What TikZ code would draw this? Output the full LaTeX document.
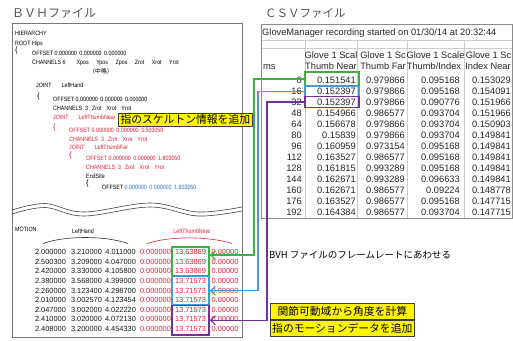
\documentclass[tikz,border=0pt]{standalone}
\usepackage{fontspec}
\setmainfont{Liberation Sans}
\newfontfamily\jp{Noto Sans CJK JP}
\newfontfamily\bvhfam{Liberation Sans}[FakeStretch=0.86]
\usetikzlibrary{arrows.meta,calc}
\definecolor{cG}{RGB}{60,178,60}
\definecolor{cB}{RGB}{72,152,212}
\definecolor{cP}{RGB}{112,48,160}
\definecolor{cR}{RGB}{226,32,56}
\definecolor{cT}{RGB}{45,115,200}
\definecolor{cFrame}{RGB}{120,120,120}
\definecolor{cGrid}{RGB}{205,205,205}
\definecolor{cYel}{RGB}{255,245,0}
\definecolor{cTitle}{RGB}{85,85,85}
\newcommand\bvhf{\bvhfam\fontsize{6.2}{7}\selectfont}
\newcommand\datf{\fontsize{7.4}{8}\selectfont}
\newcommand\csvf{\fontsize{9.3}{10}\selectfont}
\newcommand\gp[1]{\hspace{#1pt}}
\begin{document}
\begin{tikzpicture}[x=1pt,y=-1pt,
 bvh/.style={font=\bvhf, inner sep=0pt, anchor=west, text height=4.4pt, text depth=0pt, text=#1},
 bvh/.default=black,
 brc/.style={font=\fontsize{7.5}{8}\selectfont, inner sep=0pt, anchor=west, text=#1},
 brc/.default=black,
 dat/.style={font=\datf, inner sep=0pt, text height=5.3pt, text depth=0pt, text=#1},
 dat/.default=black!90,
 csv/.style={font=\csvf, inner sep=0pt, text height=6.7pt, text depth=0pt, text=black!85},
 csvr/.style={csv, anchor=east},
 jpt/.style={font=\jp\fontsize{#1}{#1}\selectfont, inner sep=0pt},
 lab/.style={fill=cYel, draw=black!75, line width=0.6pt, inner sep=0pt, font=\jp\fontsize{10.8}{12}\selectfont, text=black},
 cbox/.style={draw=#1, line width=1.3pt, inner sep=0pt},
 conn/.style={draw=#1, line width=1.1pt, -{Straight Barb[length=5pt,width=9pt]}},
]
\fill[white] (0,0) rectangle (513,340);
\useasboundingbox (0,0) rectangle (513,340);

% titles
\node[jpt=12, anchor=west, text=cTitle] (t1) at (12,13) {ＢＶＨファイル};
\node[jpt=11.5, anchor=west, text=cTitle] (t2) at (265,13) {ＣＳＶファイル};

% BVH frame
\draw[cFrame, line width=0.8pt] (12,23) rectangle (242,337);

% hierarchy text
\node[bvh] (b1) at (15,33) {HIERARCHY};
\node[bvh] (b2) at (15,43) {ROOT Hips};
\node[brc] (b3) at (15,51) {\{};
\node[bvh] (b4) at (32,53) {OFFSET 0.000000\gp{2.5}0.000000\gp{2.5}0.000000};
\node[bvh] (b5) at (32,62) {CHANNELS 6\gp{11}Xpos\gp{7.5}Ypos\gp{7.5}Zpos\gp{7.5}Zrot\gp{7.5}Xrot\gp{7.5}Yrot};
\node[jpt=5.8] (b6) at (101,71) {（中略）};
\node[bvh] (b7) at (36,85) {JOINT\gp{10}LeftHand};
\node[brc] (b8) at (37,97) {\{};
\node[bvh] (b9) at (53,99) {OFFSET 0.000000\gp{2.5}0.000000\gp{2.5}0.000000};
\node[bvh] (b10) at (53,108) {CHANNELS\gp{3}3\gp{4}Zrot\gp{5}Xrot\gp{5}Yrot};
\node[bvh=cR] (b11) at (53,117) {JOINT\gp{10}LeftThumbNear};
\node[brc=cR] (b12) at (53,127.5) {\{};
\node[bvh=cR] (b13) at (69,130) {OFFSET 0.000000\gp{2.5}0.000000\gp{2.5}3.503050};
\node[bvh=cR] (b14) at (69,139) {CHANNELS\gp{3}3\gp{4}Zrot\gp{5}Xrot\gp{5}Yrot};
\node[bvh=cR] (b15) at (69,147) {JOINT\gp{10}LeftThumbFar};
\node[brc=cR] (b16) at (69,155.5) {\{};
\node[bvh=cR] (b17) at (86,158) {OFFSET 0.000000\gp{2.5}0.000000\gp{2.5}1.803050};
\node[bvh=cR] (b18) at (86,167) {CHANNELS\gp{3}3\gp{4}Zrot\gp{5}Xrot\gp{5}Yrot};
\node[bvh] (b19) at (86,176) {EndSite};
\node[brc] (b20) at (86,183.5) {\{};
\node[bvh] (b21) at (102,187) {OFFSET {\color{cT}0.000000\gp{2.5}0.000000\gp{2.5}1.803050}};

% break
\draw[black!75, line width=0.6pt] plot[smooth, tension=0.6] coordinates {(12,210) (45,203.5) (84,212) (150,203) (198,212) (242,207)};
\draw[black!75, line width=0.6pt] plot[smooth, tension=0.6] coordinates {(12,214) (45,207.5) (84,216) (150,207) (198,216) (242,211)};

% motion
\node[bvh] (mo) at (15,229) {MOTION};
\node[bvh, anchor=center] (lh) at (83,231) {LeftHand};
\node[bvh=cR, anchor=center] (ltn) at (192,231) {LeftThumbNear};
\draw[black!80, line width=0.6pt] (43,243.5) .. controls (65,235.5) and (105,235.5) .. (128,243.5);
\draw[cR, line width=0.6pt] (147,243.5) .. controls (170,236) and (208,236) .. (232,243.5);

\foreach \a/\b/\c/\e [count=\i from 0] in {
 2.000000/3.210000/4.011000/13.63869,
 2.500300/3.209000/4.047000/13.63869,
 2.420000/3.330000/4.105800/13.63869,
 2.380000/3.568000/4.399000/13.71573,
 2.260000/3.123400/4.298700/13.71573,
 2.010000/3.002570/4.123454/13.71573,
 2.047000/3.002000/4.022220/13.71573,
 2.410000/3.020000/4.072130/13.71573,
 2.408000/3.200000/4.454330/13.71573}{
 \pgfmathsetmacro\yy{252+9.6*\i}
 \node[dat] (m\i-a) at (50.5,\yy) {\a};
 \node[dat] (m\i-b) at (86.5,\yy) {\b};
 \node[dat] (m\i-c) at (120.5,\yy) {\c};
 \node[dat=cR] (m\i-d) at (155.5,\yy) {0.000000};
 \node[dat=cR] (m\i-e) at (190.5,\yy) {\e};
 \node[dat=cR] (m\i-f) at (225,\yy) {0.00000};
}
\node[cbox=cG, minimum width=37pt, minimum height=29pt] (bvhG) at (190.5,261.5) {};
\node[cbox=cB, minimum width=37pt, minimum height=28.5pt] (bvhB) at (190.5,290.75) {};
\node[cbox=cP, minimum width=37pt, minimum height=29.5pt] (bvhP) at (190.5,320.25) {};

% CSV table
\draw[cGrid, line width=0.6pt] (305,40) -- (305,218.5) (357,40) -- (357,218.5) (407,40) -- (407,218.5) (464,40) -- (464,218.5);
\draw[cGrid, line width=0.6pt] (261,40) -- (513,40) (261,48) -- (513,48);
\draw[black!45, line width=0.7pt] (261,24) rectangle (512.6,218.5);
\node[csv, anchor=west] (tt) at (262,32) {GloveManager recording started on 01/30/14 at 20:32:44};
\node[csv] (h1) at (331,55.5) {Glove 1 Scal};
\node[csv] (h2) at (383,55.5) {Glove 1 Sc};
\node[csv] (h3) at (435.5,55.5) {Glove 1 Scale};
\node[csv] (h4) at (488.5,55.5) {Glove 1 Sc};
\node[csv, anchor=west] (h5) at (263,66.5) {ms};
\node[csv] (h6) at (331,66.5) {Thumb Near};
\node[csv] (h7) at (383,66.5) {Thumb Far};
\node[csv] (h8) at (434,66.5) {Thumb/Index};
\node[csv] (h9) at (488,66.5) {Index Near};
\foreach \ms/\b/\c/\d/\e [count=\i from 0] in {
 0/0.151541/0.979866/0.095168/0.153029,
 16/0.152397/0.979866/0.095168/0.154091,
 32/0.152397/0.979866/0.090776/0.151966,
 48/0.154966/0.986577/0.093704/0.151966,
 64/0.156678/0.979866/0.093704/0.150903,
 80/0.15839/0.979866/0.093704/0.149841,
 96/0.160959/0.973154/0.095168/0.149841,
 112/0.163527/0.986577/0.095168/0.149841,
 128/0.161815/0.993289/0.095168/0.149841,
 144/0.162671/0.993289/0.096633/0.149841,
 160/0.162671/0.986577/0.09224/0.148778,
 176/0.163527/0.986577/0.095168/0.147715,
 192/0.164384/0.986577/0.093704/0.147715}{
 \pgfmathsetmacro\yy{80+11*\i}
 \node[csvr] (r\i-a) at (302,\yy) {\ms};
 \node[csvr] (r\i-b) at (356,\yy) {\b};
 \node[csvr] (r\i-c) at (405,\yy) {\c};
 \node[csvr] (r\i-d) at (460,\yy) {\d};
 \node[csvr] (r\i-e) at (511,\yy) {\e};
}
\node[cbox=cG, minimum width=54pt, minimum height=14pt] (csvG) at (332,79) {};
\node[cbox=cB, minimum width=54pt, minimum height=10.5pt] (csvB) at (332,91.25) {};
\node[cbox=cP, minimum width=54pt, minimum height=11pt] (csvP) at (332,102) {};

% connectors
\coordinate (gb) at (254,255);
\coordinate (bb) at (258,0 |- bvhB.east);
\coordinate (pb) at (267,0 |- bvhP.east);
\draw[conn=cG] (csvG.west) -| (gb) -- (bvhG.east |- gb);
\draw[conn=cB] (csvB.west) -| (bb) -- (bvhB.east);
\draw[conn=cP] (csvP.west) -| (pb) -- (bvhP.east);

% labels
\node[lab, minimum width=134pt, minimum height=13.5pt, anchor=north west] (lab1) at (118,112.5) {指のスケルトン情報を追加};
\node[jpt=9.5, anchor=west] (fr) at (269,255) {BVH ファイルのフレームレートにあわせる};
\node[lab, minimum width=144pt, minimum height=16pt, anchor=north west] (lab2) at (270,303) {関節可動域から角度を計算};
\node[lab, minimum width=144pt, minimum height=16pt, anchor=north] (lab3) at (lab2.south) {指のモーションデータを追加};
\end{tikzpicture}
\end{document}
